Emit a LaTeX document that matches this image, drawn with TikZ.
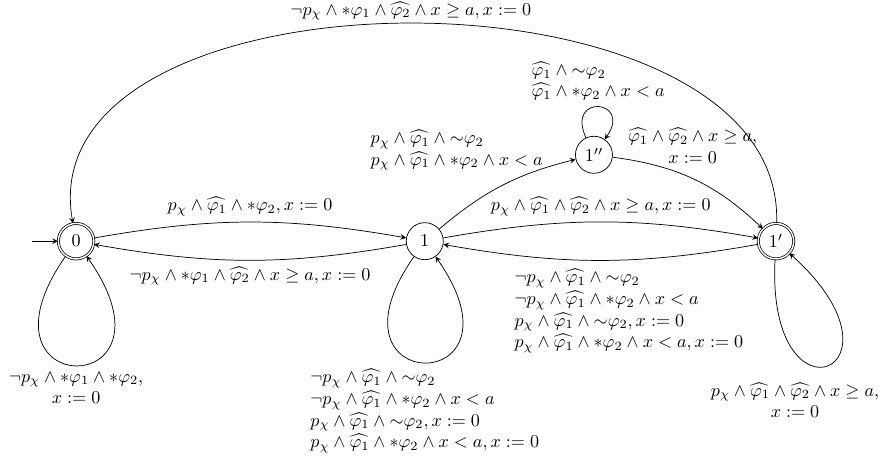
\documentclass[tikz,border=0pt]{standalone}
\usepackage{amsmath}
\usepackage{amssymb}
\usetikzlibrary{arrows}

\tikzset{
  statenode/.style={draw, circle, minimum size=0.72cm, inner sep=0pt},
  accnode/.style={statenode, minimum size=0.69cm, double, double distance=0.8pt}
}

\begin{document}
\begin{tikzpicture}[>=stealth]
\useasboundingbox (0,0) rectangle (17.21,-8.99);

\node[accnode] (0) at (1.48,-4.69) {$0$};
\node[statenode] (1) at (8.26,-4.69) {$1$};
\node[accnode] (1p) at (15.09,-4.69) {$1'$};
\node[statenode] (1pp) at (11.55,-3.01) {$1''$};

\coordinate (init) at (0.63,-4.69);
\draw[->] (init) -- (0);

\draw[->] (0) to [bend left=10] node[above] (l01)
{$p_\chi \wedge \widehat{\varphi_1} \wedge *\varphi_2, x := 0$} (1);

\draw[->] (1) to [bend left=10] node[below] (l10)
{$\neg p_\chi \wedge *\varphi_1 \wedge \widehat{\varphi_2} \wedge x \geq a, x := 0$} (0);

\draw[->] (1) to [bend left=10] node[above] (l11p)
{$p_\chi \wedge \widehat{\varphi_1} \wedge \widehat{\varphi_2} \wedge x \geq a, x := 0$} (1p);

\draw[->] (1p) to [bend left=10] (1);

\node[align=left] (l1p1) at (12.23,-6.05)
{$\neg p_\chi \wedge \widehat{\varphi_1} \wedge {\sim}\varphi_2$\\
$\neg p_\chi \wedge \widehat{\varphi_1} \wedge *\varphi_2 \wedge x < a$\\
$p_\chi \wedge \widehat{\varphi_1} \wedge {\sim}\varphi_2, x := 0$\\
$p_\chi \wedge \widehat{\varphi_1} \wedge *\varphi_2 \wedge x < a, x := 0$};

\draw[->] (1) to [bend left=13] (1pp);

\node[anchor=east, align=left] (l11pp) at (10.68,-2.92)
{$p_\chi \wedge \widehat{\varphi_1} \wedge {\sim}\varphi_2$\\
$p_\chi \wedge \widehat{\varphi_1} \wedge *\varphi_2 \wedge x < a$};

\draw[->] (1pp) to [bend left=18] (1p);

\node[align=center] (l1pp1p) at (13.47,-2.84)
{$\widehat{\varphi_1} \wedge \widehat{\varphi_2} \wedge x \geq a,$\\ $x := 0$};

\draw[->] (1pp) to [out=115,in=55,distance=0.95cm] node[above, align=left] (l1pp)
{$\widehat{\varphi_1} \wedge {\sim}\varphi_2$\\
$\widehat{\varphi_1} \wedge *\varphi_2 \wedge x < a$} (1pp);

\draw[->] (1p) to [out=88,in=100,distance=5.22cm] node[above, inner sep=1.5pt] (l1p0)
{$\neg p_\chi \wedge *\varphi_1 \wedge \widehat{\varphi_2} \wedge x \geq a, x := 0$} (0);

\draw[->] (0) to [out=-125,in=-55,distance=3.47cm] node[below, align=center] (l00)
{$\neg p_\chi \wedge *\varphi_1 \wedge *\varphi_2,$\\ $x := 0$} (0);

\draw[->] (1) to [out=-125,in=-55,distance=3.36cm] node[below, align=left] (l1)
{$\neg p_\chi \wedge \widehat{\varphi_1} \wedge {\sim}\varphi_2$\\
$\neg p_\chi \wedge \widehat{\varphi_1} \wedge *\varphi_2 \wedge x < a$\\
$p_\chi \wedge \widehat{\varphi_1} \wedge {\sim}\varphi_2, x := 0$\\
$p_\chi \wedge \widehat{\varphi_1} \wedge *\varphi_2 \wedge x < a, x := 0$} (1);

\draw[->] (1p) to [out=-93,in=-42,distance=3.4cm] (1p);

\node[align=center] (l1p) at (15.46,-7.78)
{$p_\chi \wedge \widehat{\varphi_1} \wedge \widehat{\varphi_2} \wedge x \geq a,$\\ $x := 0$};
\end{tikzpicture}
\end{document}
